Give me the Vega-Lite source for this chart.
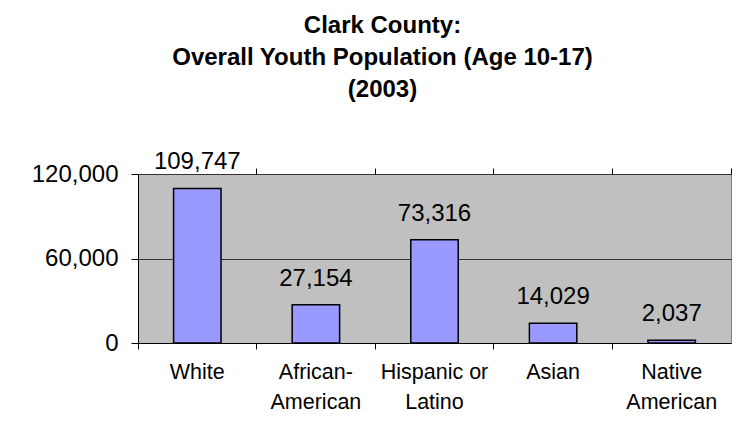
{
  "$schema": "https://vega.github.io/schema/vega-lite/v6.json",
  "autosize": "none",
  "width": 593,
  "height": 169,
  "padding": {"left": 138, "top": 174, "right": 7, "bottom": 84},
  "background": "white",
  "title": {
    "text": ["Clark County:", "Overall Youth Population (Age 10-17)", "(2003)"],
    "font": "Liberation Sans",
    "fontSize": 24,
    "fontWeight": "bold",
    "color": "#000000",
    "lineHeight": 32,
    "anchor": "middle",
    "frame": "group",
    "dx": -52,
    "offset": 48
  },
  "data": {
    "values": [
      {"group": "White", "population": 109747},
      {"group": "African-American", "population": 27154},
      {"group": "Hispanic or Latino", "population": 73316},
      {"group": "Asian", "population": 14029},
      {"group": "Native American", "population": 2037}
    ]
  },
  "encoding": {
    "y": {
      "field": "population",
      "type": "quantitative",
      "scale": {"domain": [0, 120000], "nice": false},
      "axis": {
        "title": null,
        "values": [0, 60000, 120000],
        "format": ",.0f",
        "labelFont": "Liberation Sans",
        "labelFontSize": 24,
        "labelColor": "#000000",
        "labelPadding": 13,
        "domainColor": "#000000",
        "domainWidth": 1,
        "tickColor": "#000000",
        "tickSize": 7,
        "tickWidth": 1,
        "grid": true,
        "gridColor": "#333333",
        "gridWidth": 1
      }
    }
  },
  "layer": [
    {
      "mark": {
        "type": "bar",
        "width": {"band": 0.4},
        "fill": "#9999FF",
        "stroke": "#000000",
        "strokeWidth": 1.5
      },
      "encoding": {
        "x": {
          "field": "group",
          "type": "nominal",
          "sort": null,
          "scale": {"paddingInner": 0, "paddingOuter": 0},
          "axis": {
            "title": null,
            "labelAngle": 0,
            "bandPosition": 0,
            "labelFont": "Liberation Sans",
            "labelFontSize": 21.5,
            "labelColor": "#000000",
            "labelLineHeight": 30,
            "labelPadding": 12,
            "labelExpr": "datum.label == 'African-American' ? ['African-', 'American'] : datum.label == 'Hispanic or Latino' ? ['Hispanic or', 'Latino'] : datum.label == 'Native American' ? ['Native', 'American'] : datum.label",
            "domainColor": "#000000",
            "domainWidth": 1,
            "tickColor": "#000000",
            "tickSize": 6,
            "tickWidth": 1,
            "grid": false
          }
        }
      }
    },
    {
      "mark": {
        "type": "text",
        "baseline": "alphabetic",
        "dy": -19,
        "font": "Liberation Sans",
        "fontSize": 24,
        "color": "#000000"
      },
      "encoding": {
        "x": {
          "field": "group",
          "type": "nominal",
          "sort": null,
          "axis": {
            "title": null,
            "bandPosition": 1,
            "labels": false,
            "domain": false,
            "tickColor": "#000000",
            "tickSize": 6,
            "tickWidth": 1,
            "grid": false
          }
        },
        "text": {"field": "population", "type": "quantitative", "format": ","}
      }
    }
  ],
  "resolve": {"axis": {"x": "independent"}},
  "config": {
    "view": {"fill": "#C0C0C0", "stroke": "#808080", "strokeWidth": 1}
  }
}
